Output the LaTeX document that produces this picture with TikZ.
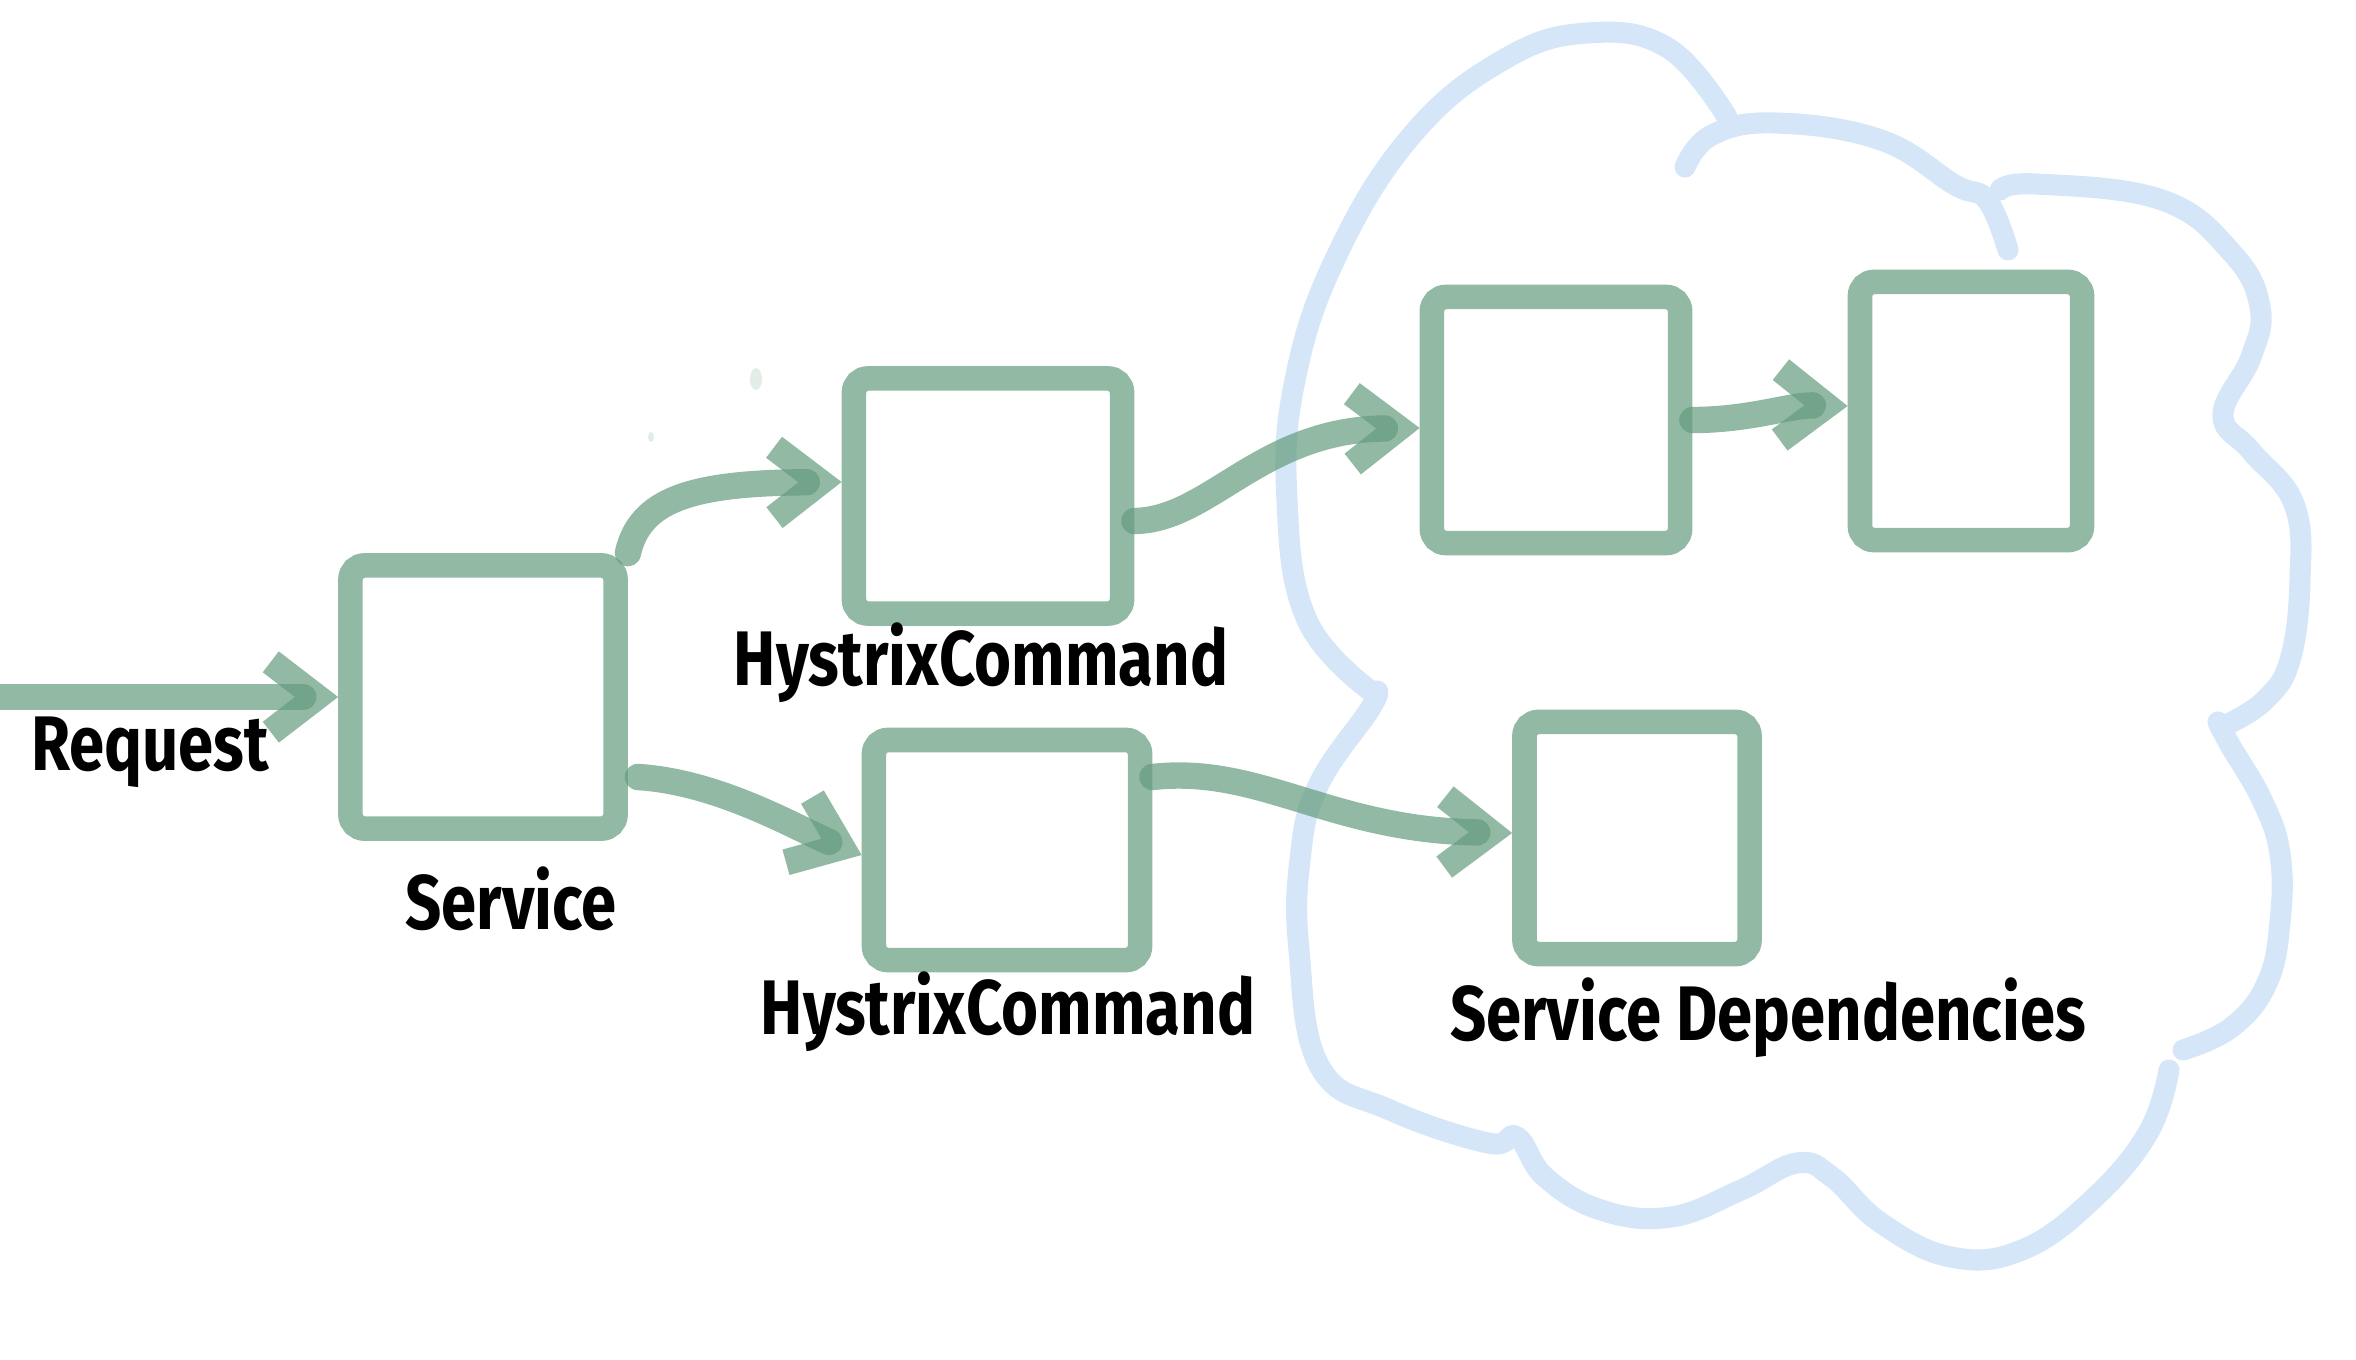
\documentclass[tikz,border=0pt]{standalone}
\usepackage{fontspec}
\newfontfamily\hand{Fira Sans}[FakeStretch=0.82]
\usetikzlibrary{arrows.meta,calc}
\definecolor{gline}{RGB}{100,155,125}
\definecolor{cloudc}{RGB}{212,230,247}
\tikzset{
  gbox/.style={draw=gline, draw opacity=0.7, line width=7pt, rounded corners=4pt, inner sep=0pt},
  conn/.style={draw=gline, draw opacity=0.7, line width=7.5pt, line cap=round,
    -{Straight Barb[length=13pt,width=20pt]}},
  cloudline/.style={draw=cloudc, line width=6pt, line cap=round, line join=round},
  lbl/.style={font=\hand\bfseries\fontsize{22}{26}\selectfont, inner sep=0pt},
  speck/.style={fill=gline, fill opacity=0.18, draw=none}
}
\begin{document}
\begin{tikzpicture}[x=0.01cm,y=-0.01cm]
\useasboundingbox (0,0) rectangle (2356,1360);
% cloud
\draw[cloudline] plot[smooth, tension=0.7] coordinates {(1372,692) (1307,620) (1287,500) (1295,380) (1337,255) (1412,135) (1503,60) (1587,33) (1668,48) (1727,117)};
\draw[cloudline] plot[smooth, tension=0.7] coordinates {(1685,167) (1712,135) (1776,123) (1881,140) (1955,185) (1987,200) (2008,250)};
\draw[cloudline] plot[smooth, tension=0.7] coordinates {(2000,190) (2036,184) (2162,200) (2232,253) (2260,307) (2251,357) (2223,415) (2251,451) (2294,504) (2300,580) (2290,660) (2265,700) (2228,724)};
\draw[cloudline] plot[smooth, tension=0.7] coordinates {(2218,722) (2230,745) (2262,800) (2280,854) (2280,922) (2267,983) (2232,1027) (2183,1050)};
\draw[cloudline] plot[smooth, tension=0.7] coordinates {(2169,1070) (2148,1133) (2092,1200) (2022,1250) (1951,1257) (1881,1223) (1832,1177) (1797,1163) (1741,1190) (1671,1217) (1601,1210) (1545,1177) (1517,1137) (1488,1143) (1390,1110) (1320,1067) (1299,950) (1300,860) (1318,786) (1370,709) (1377,691)};
% specks
\fill[speck] (756,379) ellipse [x radius=0.06cm, y radius=0.11cm];
\fill[speck] (651,437) ellipse [x radius=0.03cm, y radius=0.05cm];
% boxes
\node[gbox, minimum width=2.65cm, minimum height=2.63cm] (svc) at (483,697) {};
\node[gbox, minimum width=2.68cm, minimum height=2.35cm] (hc1) at (988,496) {};
\node[gbox, minimum width=2.66cm, minimum height=2.20cm] (hc2) at (1007,850) {};
\node[gbox, minimum width=2.48cm, minimum height=2.46cm] (d1) at (1556,420) {};
\node[gbox, minimum width=2.22cm, minimum height=2.58cm] (d2) at (1971,411) {};
\node[gbox, minimum width=2.25cm, minimum height=2.32cm] (d3) at (1637,838) {};
% labels
\node[lbl] (lreq) at (150,752) {Request};
\node[lbl] (lsvc) at (511,899) {Service};
\node[lbl] (lhc1) at (981,663) {HystrixCommand};
\node[lbl] (lhc2) at (1008,1012) {HystrixCommand};
\node[lbl] (ldep) at (1768,1018) {Service Dependencies};
% connectors
\coordinate (reqstart) at (0,697);
\draw[conn] (reqstart) -- (svc.west);
\draw[conn] (svc.north east) .. controls (640,500) and (690,483) .. ($(hc1.west)+(0,-14)$);
\draw[conn] ($(svc.east)+(10,80)$) .. controls (720,782) and (800,830) .. ($(hc2.west)+(0,5)$);
\draw[conn] ($(hc1.east)+(0,25)$) .. controls (1210,520) and (1260,430) .. ($(d1.west)+(0,8)$);
\draw[conn] (d1.east) .. controls (1750,420) and (1790,405) .. ($(d2.west)+(0,-5)$);
\draw[conn] ($(hc2.east)+(0,-73)$) .. controls (1260,765) and (1330,830) .. ($(d3.west)+(0,-5)$);
\end{tikzpicture}
\end{document}
